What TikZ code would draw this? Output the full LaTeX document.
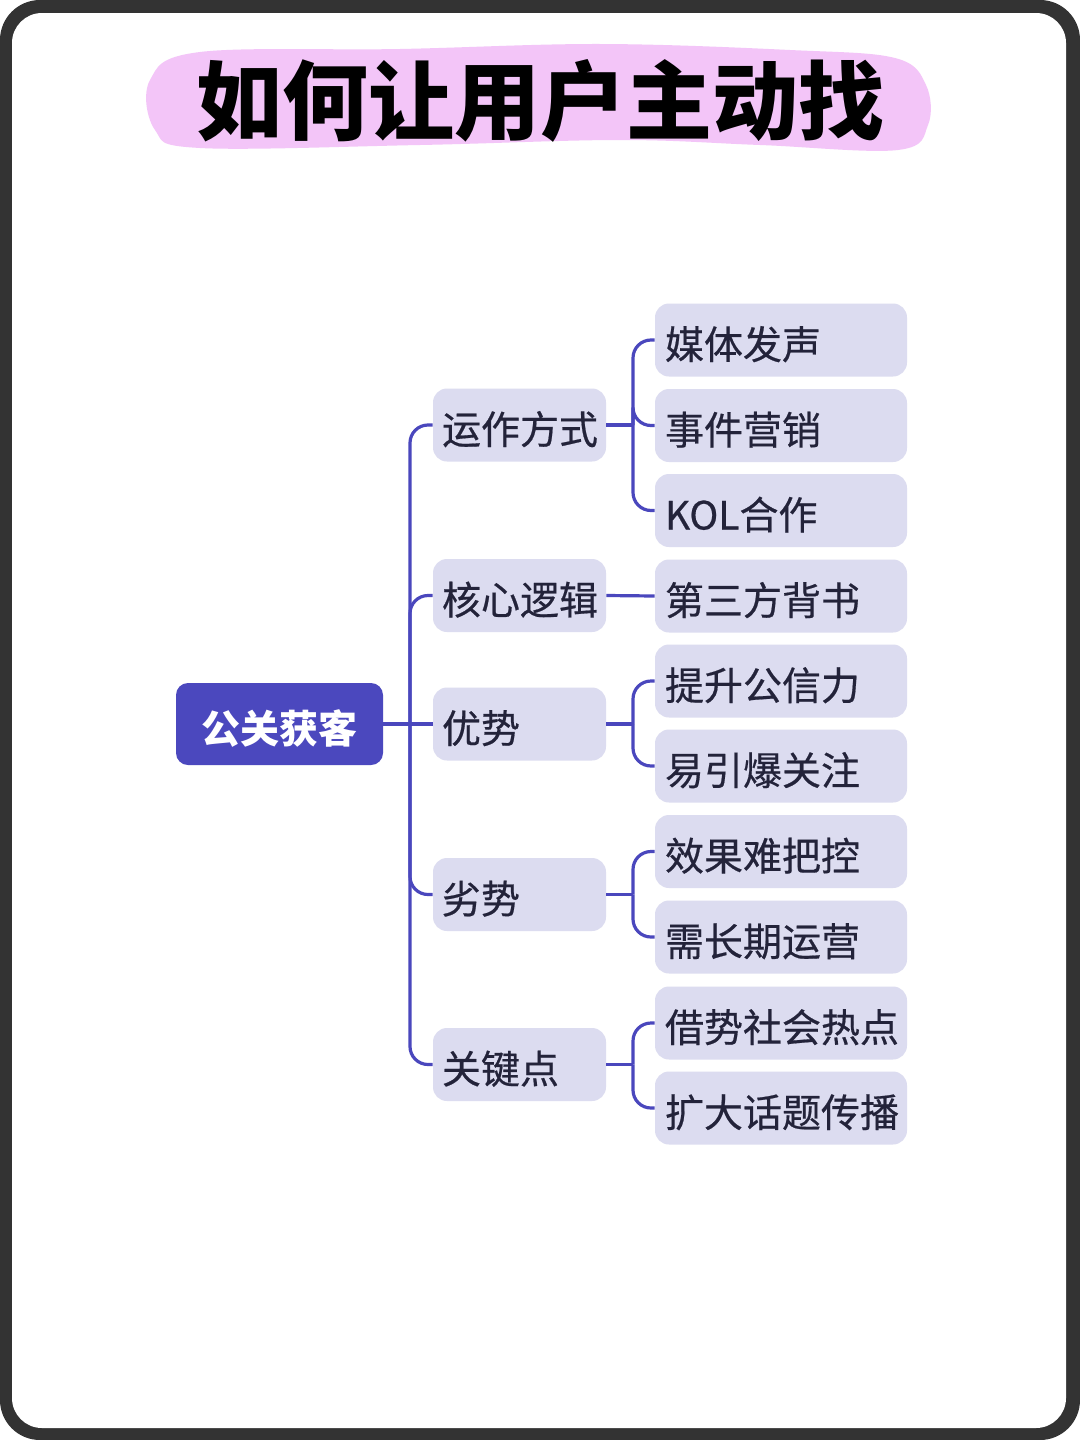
\documentclass[tikz,border=0pt]{standalone}
\usepackage{fontspec}
\setmainfont{Noto Sans CJK SC}
\newfontfamily\medfont[FakeBold=0.5]{Noto Sans CJK SC}
\definecolor{frame}{HTML}{333333}
\definecolor{pinkb}{HTML}{F3C5F8}
\definecolor{conn}{HTML}{4A47BD}
\definecolor{rootc}{HTML}{4B48BE}
\definecolor{boxc}{HTML}{DCDCF0}
\definecolor{txt}{HTML}{23233A}
\tikzset{
  rootbox/.style={fill=rootc, rounded corners=6pt, minimum width=103.5pt, minimum height=41pt,
    inner sep=0pt, text=white, text height=21pt, text depth=2pt,
    font=\fontsize{19.5pt}{22pt}\selectfont\bfseries},
  lonebox/.style={fill=boxc, rounded corners=7pt, minimum width=86.5pt, minimum height=36.5pt,
    inner xsep=4.5pt, inner ysep=0pt, text width=77.5pt, align=left, text=txt,
    text height=21pt, text depth=2pt,
    font=\fontsize{19.5pt}{22pt}\selectfont\medfont},
  ltwobox/.style={fill=boxc, rounded corners=7pt, minimum width=126pt, minimum height=36.5pt,
    inner xsep=5pt, inner ysep=0pt, text width=116pt, align=left, text=txt,
    text height=21pt, text depth=2pt,
    font=\fontsize{19.5pt}{22pt}\selectfont\medfont},
  link/.style={draw=conn, line width=1.6pt, rounded corners=9pt},
}
\begin{document}
\begin{tikzpicture}[x=0.5pt,y=-0.5pt]
\useasboundingbox (0,0) rectangle (1080,1440);
% frame
\fill[white] (0,0) rectangle (1080,1440);
\fill[frame, rounded corners=20pt] (0,0) rectangle (1080,1440);
\fill[white, rounded corners=15pt] (12,13) rectangle (1066,1428);
% title blob
\fill[pinkb] plot[smooth cycle, tension=0.6] coordinates {(200,52) (400,49) (600,44) (790,50) (895,58) (926,85) (928,125) (898,150) (760,145) (620,140) (420,145) (200,148) (155,130) (150,80)};
\node[font=\fontsize{43pt}{48pt}\selectfont\bfseries, text=black] (title) at (540,101) {如何让用户主动找};
% root
\node[rootbox] (root) at (279.5,724) {公关获客};
% level 1
\node[lonebox] (a) at (519.5,425) {运作方式};
\node[lonebox] (b) at (519.5,595.5) {核心逻辑};
\node[lonebox] (c) at (519.5,724) {优势};
\node[lonebox] (d) at (519.5,894.5) {劣势};
\node[lonebox] (e) at (519.5,1064.5) {关键点};
% level 2
\node[ltwobox] (a1) at (781,340) {媒体发声};
\node[ltwobox] (a2) at (781,425.5) {事件营销};
\node[ltwobox] (a3) at (781,510.5) {KOL合作};
\node[ltwobox] (b1) at (781,596) {第三方背书};
\node[ltwobox] (c1) at (781,681) {提升公信力};
\node[ltwobox] (c2) at (781,766) {易引爆关注};
\node[ltwobox] (d1) at (781,851.5) {效果难把控};
\node[ltwobox] (d2) at (781,937) {需长期运营};
\node[ltwobox] (e1) at (781,1023) {借势社会热点};
\node[ltwobox] (e2) at (781,1108) {扩大话题传播};
% connectors
\coordinate (trunk) at (410,724);
\draw[link] (root.east) -- (c.west);
\foreach \n in {a,b,d,e} { \draw[link] (trunk) |- (\n.west); }
\coordinate (ja) at (633,425);
\coordinate (jc) at (633,724);
\coordinate (jd) at (633,894.5);
\coordinate (je) at (633,1064.5);
\draw[link] (a.east) -- (ja);
\foreach \n in {a1,a2,a3} { \draw[link] (ja) |- (\n.west); }
\draw[link] (b.east) -- (b1.west);
\draw[link] (c.east) -- (jc);
\foreach \n in {c1,c2} { \draw[link] (jc) |- (\n.west); }
\draw[link] (d.east) -- (jd);
\foreach \n in {d1,d2} { \draw[link] (jd) |- (\n.west); }
\draw[link] (e.east) -- (je);
\foreach \n in {e1,e2} { \draw[link] (je) |- (\n.west); }
\end{tikzpicture}
\end{document}
